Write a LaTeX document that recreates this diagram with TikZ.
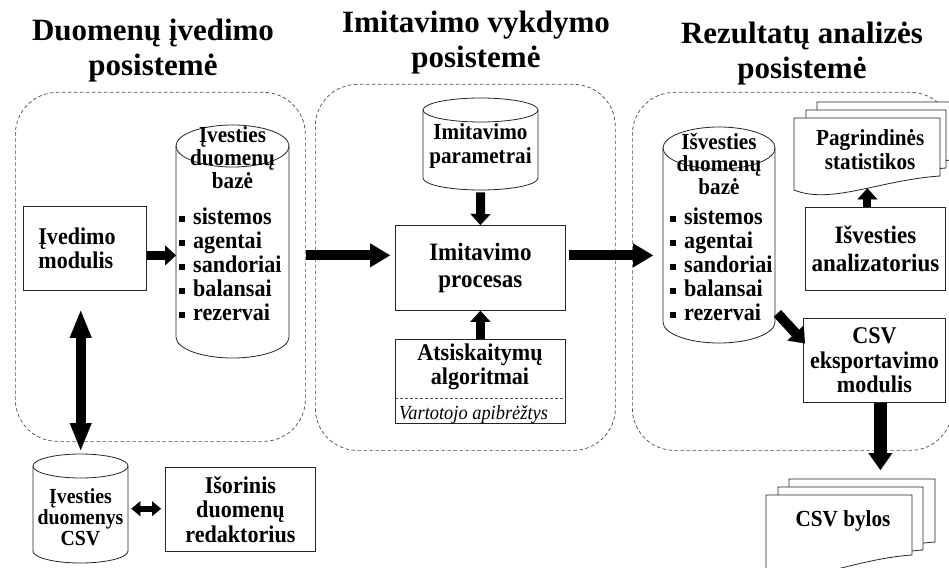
\documentclass[tikz,border=0pt]{standalone}
\usepackage{fontspec}
\setmainfont{Liberation Serif}
\newfontfamily\cond[FakeStretch=0.92]{Liberation Serif}
\usetikzlibrary{arrows.meta}

% small square list bullet
\newcommand\sqbul{\rule[2.5pt]{6pt}{6pt}\hspace{8pt}}
% label font: condensed bold serif at a given size and line spacing
\newcommand\lf[2]{\cond\bfseries\fontsize{#1}{#2}\selectfont}

% database drum: name, left x, right x, top ellipse centre y, bottom ellipse centre y, ellipse y radius
\newcommand\dbdraw[6]{%
  \node[inner sep=0, minimum width={#3-#2}, minimum height={#5-#4+2*#6}, anchor=north west] (#1) at (#2,{#4-#6}) {};
  \filldraw[outline, fill=white] (#2,#4) -- (#2,#5) arc[start angle=180, end angle=0, x radius={(#3-#2)/2}, y radius=#6] -- (#3,#4);
  \draw[outline] ({(#2+#3)/2},#4) ellipse[x radius={(#3-#2)/2}, y radius=#6];
}

% document sheet with wavy lower edge: left x, top y, right x, lower-left y, lower-right y
\newcommand\docdraw[5]{%
  \filldraw[outline, fill=white] (#1,#2) -- (#3,#2) -- (#3,#5)
    .. controls ({#3-0.41*(#3-#1)},{#5+4}) and ({#1+0.25*(#3-#1)},{#4+15}) .. (#1,#4) -- cycle;
}

\begin{document}
\begin{tikzpicture}[
  x=1pt, y=-1pt,
  outline/.style={draw=black!85, line width=0.8pt},
  pane/.style={draw=black!70, line width=0.7pt, dash pattern=on 3.5pt off 2.5pt,
    rounded corners=42pt, inner sep=0, anchor=north west},
  box/.style={outline, fill=white, inner sep=0, anchor=north west, align=center,
    font=\lf{24}{24.5}},
  lbl/.style={inner sep=0, align=center, font=\lf{24}{24}},
  title/.style={inner sep=0, align=center, font=\bfseries\fontsize{31}{35}\selectfont},
  divider/.style={draw=black!70, line width=0.7pt, dash pattern=on 3pt off 2pt},
  bigarr/.style={line width=10pt, -{Triangle[length=20pt,width=24pt,line width=0.1pt]}},
  midarr/.style={line width=9pt, -{Triangle[length=11pt,width=20pt,line width=0.1pt]}},
  diagarr/.style={line width=10pt, -{Triangle[length=14pt,width=22pt,line width=0.1pt]}},
  downarr/.style={line width=13pt, -{Triangle[length=17pt,width=24pt,line width=0.1pt]}},
  vdbl/.style={line width=10pt, {Triangle[length=27pt,width=22pt,line width=0.1pt]}-{Triangle[length=27pt,width=22pt,line width=0.1pt]}},
  hdbl/.style={line width=6pt, {Triangle[length=9pt,width=15pt,line width=0.1pt]}-{Triangle[length=9pt,width=15pt,line width=0.1pt]}},
]
\path[use as bounding box, fill=white] (0,0) rectangle (949,567);
\clip (0,0) rectangle (949,567);

% ---- subsystem titles ----
\node[title] (t1) at (153,51) {Duomenų įvedimo\\posistemė};
\node[title] (t2) at (476,43) {Imitavimo vykdymo\\posistemė};
\node[title] (t3) at (802,54) {Rezultatų analizės\\posistemė};

% ---- subsystem frames ----
\node[pane, minimum width=290, minimum height=349] (inpane) at (15,92) {};
\node[pane, minimum width=300, minimum height=366] (simpane) at (315,84) {};
\node[pane, minimum width=320, minimum height=358] (outpane) at (632,92) {};

% ---- input subsystem ----
\node[box, align=left, text width=93pt, inner xsep=15pt, minimum height=84,
  font=\lf{24}{24}] (modulis) at (23,206) {Įvedimo\\modulis};
\dbdraw{indb}{176}{289}{146}{337}{21}
\node[lbl, font=\lf{23}{23}] (indbhead) at (232.5,158) {Įvesties\\duomenų\\bazė};
\node[lbl, align=left, anchor=west] (indblist) at (179,264)
  {\sqbul sistemos\\\sqbul agentai\\\sqbul sandoriai\\\sqbul balansai\\\sqbul rezervai};

\dbdraw{csvin}{33}{128}{466}{551}{12}
\node[lbl, font=\lf{21.5}{21}] (csvinlbl) at (80.5,517) {Įvesties\\duomenys\\CSV};
\node[box, minimum width=150, minimum height=84] (redakt) at (165,467) {Išorinis\\duomenų\\redaktorius};

% ---- simulation subsystem ----
\dbdraw{paramdb}{423}{538}{110}{178}{12}
\node[lbl, font=\lf{23}{24}] (paramlbl) at (480.5,145.5) {Imitavimo\\parametrai};
\node[box, minimum width=170, minimum height=85, font=\lf{25}{27}] (procesas) at (395,225) {Imitavimo\\procesas};
\node[box, minimum width=170, minimum height=84] (atsisk) at (395,339) {};
\node[lbl] (atsisklbl) at (480,367) {Atsiskaitymų\\algoritmai};
\draw[divider] ([yshift=-17pt]atsisk.west) -- ([yshift=-17pt]atsisk.east);
\node[inner sep=0, anchor=base west, font=\cond\itshape\fontsize{20}{21}\selectfont] (userdef) at (399,419) {Vartotojo apibrėžtys};

% ---- results subsystem ----
\dbdraw{outdb}{663}{775}{148}{322}{21}
\node[lbl, font=\lf{23}{22.5}] (outdbhead) at (719,164) {Išvesties\\duomenų\\bazė};
\node[lbl, align=left, anchor=west] (outdblist) at (670,264)
  {\sqbul sistemos\\\sqbul agentai\\\sqbul sandoriai\\\sqbul balansai\\\sqbul rezervai};

\docdraw{817}{102}{952}{174}{160}
\docdraw{806}{110}{946}{182}{168}
\docdraw{794}{118}{940}{190}{176}
\node[inner sep=0, minimum width=146, minimum height=70, anchor=north west] (stats) at (794,118) {};
\node[lbl, font=\lf{23}{24}] (statslbl) at ([xshift=3pt,yshift=4pt]stats.center) {Pagrindinės\\statistikos};

\node[box, minimum width=140, minimum height=83, font=\lf{25}{28}] (analiz) at (805,207) {Išvesties\\analizatorius};
\node[box, minimum width=142, minimum height=84] (eksport) at (803,318) {CSV\\eksportavimo\\modulis};

\docdraw{789}{479}{935}{556}{542}
\docdraw{778}{487}{923}{564}{550}
\docdraw{766}{495}{912}{572}{555}
\node[inner sep=0, minimum width=146, minimum height=65, anchor=north west] (csvfiles) at (766,495) {};
\node[lbl, font=\lf{23}{24}] (csvfileslbl) at (843,521) {CSV bylos};

% ---- connectors ----
\draw[midarr] ([yshift=-7pt]modulis.east) -- ([yshift=-7pt]modulis.east -| indb.west);
\coordinate (flowin) at ([yshift=11.5pt]inpane.east);
\draw[bigarr, shorten >=5pt] (flowin) -- (flowin -| procesas.west);
\draw[bigarr, shorten <=3pt, shorten >=10pt] ([yshift=12.5pt]procesas.east) -- ([yshift=12.5pt]procesas.east -| outdb.west);
\draw[midarr, shorten <=2pt] (paramdb.south) -- (procesas.north);
\draw[midarr] (atsisk.north) -- (procesas.south);
\draw[midarr, line width=8pt] ([xshift=-8pt]analiz.north) -- ([xshift=-8pt]analiz.north |- stats.south);
\draw[diagarr] ([shift={(2pt,30pt)}]outdb.south east) -- ([shift={(2pt,17pt)}]eksport.west);
\draw[downarr, shorten >=25pt] ([xshift=6pt]eksport.south) -- ([xshift=6pt]eksport.south |- csvfiles.north);
\draw[vdbl, shorten >=4pt] ([yshift=-20pt]modulis.south -| csvin.north) -- (csvin.north);
\draw[hdbl, shorten <=3pt, shorten >=4pt] (csvin.east) -- (csvin.east -| redakt.west);
\end{tikzpicture}
\end{document}
